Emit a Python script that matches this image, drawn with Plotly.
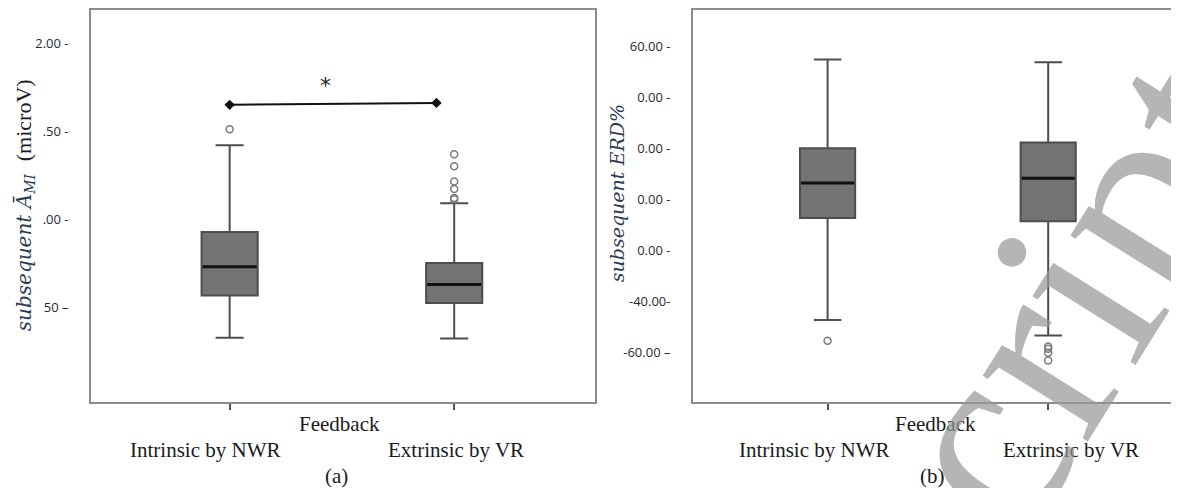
import plotly.graph_objects as go

# ---------------- data ----------------
categories = ["Intrinsic by NWR", "Extrinsic by VR"]

# panel (a): subsequent A_MI (microV)
a_q1 = [0.570, 0.527]
a_median = [0.734, 0.633]
a_q3 = [0.930, 0.755]
a_lower = [0.330, 0.326]
a_upper = [1.422, 1.094]
a_outliers = [[1.514], [1.371, 1.303, 1.217, 1.175, 1.124, 1.117]]
a_ticks = [2.0, 1.5, 1.0, 0.5]
a_ticktext = ["2.00 -", ".50 -", ".00 -", "50 \u2013"]

# significance bracket between the two groups in panel (a)
sig_x = [0.0, 0.921]
sig_y = [1.652, 1.663]
sig_label = "*"
sig_label_pos = (0.427, 1.761)

# panel (b): subsequent ERD%
b_q1 = [-7.3, -8.6]
b_median = [6.5, 8.3]
b_q3 = [20.1, 22.4]
b_lower = [-47.4, -53.5]
b_upper = [55.0, 53.9]
b_outliers = [[-55.6], [-57.8, -58.7, -60.3, -63.3]]
b_ticks = [60, 40, 20, 0, -20, -40, -60]
b_ticktext = ["60.00 -", "0.00 -", "0.00 -", "0.00 -", "0.00 -", "-40.00-", "-60.00 \u2013"]

x_title = "Feedback"
panel_labels = ["(a)", "(b)"]
watermark = "Manuscript"

# ---------------- style ----------------
BOX_FILL = "#737373"
BOX_LINE = "#4d4d4d"
FRAME = "#8c8c8c"
BOX_W = 0.25
SERIF = "Liberation Serif"
TICKFONT = dict(family="Open Sans", size=13, color="#2a2a2a")

# the page body has an 8px margin: the figure starts 8px right/down
OX, OY = 8, 8
W, H = 1179 - OX, 488 - OY

def px(x):
    return (x - OX) / W

def py(y):
    return 1 - (y - OY) / H

fig = go.Figure()
xs = list(range(len(categories)))

def add_panel(xref, yref, q1, med, q3, lo, hi, outs):
    for i in xs:
        fig.add_trace(go.Box(
            x=[i], q1=[q1[i]], median=[med[i]], q3=[q3[i]],
            lowerfence=[lo[i]], upperfence=[hi[i]],
            width=BOX_W, whiskerwidth=0.5,
            fillcolor=BOX_FILL, line=dict(color=BOX_LINE, width=2),
            boxpoints=False, hoverinfo="skip",
            xaxis=xref, yaxis=yref, showlegend=False))
        fig.add_trace(go.Scatter(
            x=[i - BOX_W / 2 + 0.005, i + BOX_W / 2 - 0.005], y=[med[i], med[i]],
            mode="lines", line=dict(color="#111111", width=3),
            xaxis=xref, yaxis=yref, showlegend=False, hoverinfo="skip"))
        fig.add_trace(go.Scatter(
            x=[i] * len(outs[i]), y=outs[i], mode="markers",
            marker=dict(symbol="circle-open", size=7, color="#7a7a7a",
                        line=dict(width=1.5, color="#7a7a7a")),
            xaxis=xref, yaxis=yref, showlegend=False, hoverinfo="skip"))

add_panel("x", "y", a_q1, a_median, a_q3, a_lower, a_upper, a_outliers)
add_panel("x2", "y2", b_q1, b_median, b_q3, b_lower, b_upper, b_outliers)

fig.add_trace(go.Scatter(
    x=sig_x, y=sig_y, mode="lines+markers",
    line=dict(color="#111111", width=2),
    marker=dict(symbol="diamond", size=8, color="#111111"),
    xaxis="x", yaxis="y", showlegend=False, hoverinfo="skip"))

ydom = [py(402), 1.0]

axis_common = dict(showline=True, mirror=True, linecolor=FRAME, linewidth=1.5,
                   showgrid=False, zeroline=False)

fig.update_layout(
    width=W, height=H,
    margin=dict(l=0, r=0, t=0, b=0),
    paper_bgcolor="white", plot_bgcolor="white",
    showlegend=False,
    xaxis=dict(domain=[px(91), px(596)], range=[-0.618, 1.627],
               tickvals=xs, showticklabels=False, ticks="outside",
               ticklen=6, tickwidth=1.5, tickcolor="#555555", **axis_common),
    yaxis=dict(domain=ydom, range=[-0.036, 2.190],
               tickvals=a_ticks, ticktext=a_ticktext, ticks="",
               ticklabelstandoff=18, tickfont=TICKFONT, **axis_common),
    xaxis2=dict(domain=[px(694), 1.0], range=[-0.611, 1.584], anchor="y2",
                tickvals=xs, showticklabels=False, ticks="outside",
                ticklen=6, tickwidth=1.5, tickcolor="#555555", **axis_common),
    yaxis2=dict(domain=ydom, range=[-79.8, 74.48], anchor="x2",
                tickvals=b_ticks, ticktext=b_ticktext, ticks="",
                ticklabelstandoff=18, tickfont=TICKFONT, **axis_common),
)

ann = []
TXT = "#1a1a1a"
for xr, shifts, xc, lab in [("x", [-25, 2], 340, panel_labels[0]),
                            ("x2", [-14, 23], 937, panel_labels[1])]:
    ann.append(dict(text=x_title, xref="paper", yref="paper", x=px(xc), y=py(424),
                    showarrow=False, xanchor="center", yanchor="middle",
                    font=dict(family=SERIF, size=21, color=TXT)))
    for i, c in enumerate(categories):
        ann.append(dict(text=c, xref=xr, yref="paper", x=xs[i], xshift=shifts[i],
                        y=py(450), showarrow=False, xanchor="center", yanchor="middle",
                        font=dict(family=SERIF, size=21, color=TXT)))
    ann.append(dict(text=lab, xref="paper", yref="paper", x=px(xc - 3), y=py(476),
                    showarrow=False, xanchor="center", yanchor="middle",
                    font=dict(family=SERIF, size=21, color=TXT)))

ann.append(dict(text=sig_label, xref="x", yref="y", x=sig_label_pos[0], y=sig_label_pos[1],
                showarrow=False, font=dict(family="DejaVu Sans", size=22, color="#222222")))

ann.append(dict(
    text="<i>subsequent \u0100<sub>MI</sub></i>\u00a0\u00a0<span style=\"font-family:'Liberation Serif';font-style:normal;font-size:22px;color:#1a1a2a\">(microV)</span>",
    xref="paper", yref="paper", x=px(24), y=py(204), textangle=-90,
    showarrow=False, xanchor="center", yanchor="middle",
    font=dict(family="DejaVu Serif", size=20, color="#2b3a52")))
ann.append(dict(
    text="<i>subsequent ERD%</i>",
    xref="paper", yref="paper", x=px(618), y=py(192), textangle=-90,
    showarrow=False, xanchor="center", yanchor="middle",
    font=dict(family="DejaVu Serif", size=19, color="#2b3a52")))

ann.append(dict(text=watermark, xref="paper", yref="paper", x=px(882), y=py(601),
                textangle=-58, showarrow=False, xanchor="center", yanchor="middle",
                font=dict(family=SERIF, size=270, color="rgba(150,150,150,0.7)")))

fig.update_layout(annotations=ann)
fig.write_html("out.html")
